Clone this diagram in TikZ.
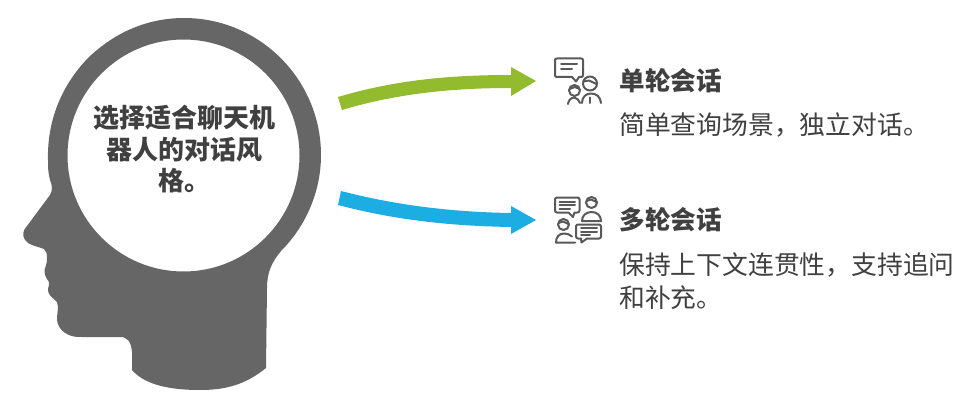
\documentclass[tikz,border=0pt]{standalone}
\usepackage{fontspec}
\setmainfont{Noto Sans CJK SC}
\definecolor{headgray}{HTML}{666666}
\definecolor{txtgray}{HTML}{404040}
\definecolor{arrgreen}{HTML}{92BB2D}
\definecolor{arrblue}{HTML}{1CADE2}
\definecolor{icongray}{HTML}{595959}
\tikzset{
  headtxt/.style={font=\fontsize{26}{31.5}\selectfont\bfseries,text=txtgray,align=center,inner sep=0pt},
  titletxt/.style={font=\fontsize{25.6}{31}\selectfont\bfseries,text=txtgray,anchor=west,inner sep=0pt},
  bodytxt/.style={font=\fontsize{25.8}{33}\selectfont,text=txtgray,anchor=west,align=left,inner sep=0pt},
  iconline/.style={draw=icongray,line width=2pt,line join=round,line cap=round,fill=none}
}
\begin{document}
\begin{tikzpicture}[x=1pt,y=-1pt]
\useasboundingbox (0,0) rectangle (972,409);
\fill[white] (0,0) rectangle (972,409);
% head
\fill[headgray,even odd rule]
  (48,160)
  .. controls (47,120) and (62,85) .. (88,58)
  .. controls (115,32) and (148,18) .. (184,18)
  .. controls (260,18) and (321,80) .. (321,155)
  .. controls (321,190) and (307,225) .. (281,251)
  .. controls (272,262) and (267,272) .. (267,288)
  -- (266,368)
  .. controls (245,385) and (225,390) .. (200,390)
  .. controls (170,390) and (145,385) .. (132,370)
  -- (132,352)
  .. controls (131,342) and (128,337) .. (120,337)
  -- (82,337)
  .. controls (68,338) and (58,330) .. (57,320)
  .. controls (57,312) and (59,308) .. (57,302)
  .. controls (52,297) and (48,295) .. (48,290)
  .. controls (48,286) and (50,285) .. (49,282)
  .. controls (46,278) and (44,274) .. (44.5,270)
  .. controls (46,265) and (47,263) .. (47,258)
  .. controls (47,253) and (46,251) .. (44,249)
  .. controls (36,246) and (28,245) .. (25,240)
  .. controls (22,235) and (23,230) .. (27,226)
  -- (50,195)
  .. controls (53,190) and (52,185) .. (50,180)
  .. controls (48,173) and (48,166) .. (48,160) -- cycle
  (183.5,155.5) circle [radius=116];
\node[headtxt] (headlabel) at (184,149.5) {选择适合聊天机\\器人的对话风\\格。};
% arrows
\coordinate (gt) at (536,81);
\coordinate (bt) at (536,220);
\fill[arrgreen] (338,97) .. controls (395,80) and (450,75) .. (511,75) -- (511,67) -- (gt) -- (511,96) -- (511,88)
  .. controls (450,88) and (395,94) .. (342,110) -- cycle;
\fill[arrblue] (341,191) .. controls (395,205) and (450,212) .. (511,213) -- (511,206) -- (bt) -- (511,234) -- (511,227)
  .. controls (450,226) and (395,220) .. (338,205) -- cycle;
% icon 1
\draw[iconline] (557,58.5) -- (581,58.5) .. controls (582.5,58.5) and (583,59) .. (583,60.5) -- (583,75) .. controls (583,76.5) and (582.5,77) .. (581,77) -- (579,77) -- (576,81.5) -- (572,77) -- (557,77) .. controls (555.5,77) and (555,76.5) .. (555,75) -- (555,60.5) .. controls (555,59) and (555.5,58.5) .. (557,58.5) -- cycle;
\draw[iconline] (561,64.5) -- (577,64.5) (561,69) -- (572,69);
\draw[iconline] (574.5,90.5) circle [radius=5.5];
\draw[iconline] (569.5,89) -- (575,87) -- (579.5,89);
\draw[iconline] (568,104) .. controls (568.5,100.5) and (570.5,98) .. (574,97.5) .. controls (577,98) and (579,100) .. (580,103);
\draw[iconline] (590,83.5) circle [radius=7];
\draw[iconline] (583.5,81.5) -- (589,80.5) -- (596.5,84);
\draw[iconline] (582,103) .. controls (582,97) and (586,93.5) .. (591,93.5) .. controls (596.5,93.5) and (600.5,97) .. (601,103);
\draw[iconline] (590,97.5) -- (590,103);
% icon 2
\draw[iconline] (557,197.5) -- (577.5,197.5) .. controls (578.5,197.5) and (579.5,198.5) .. (579.5,199.5) -- (579.5,210.5) .. controls (579.5,211.5) and (578.5,212.5) .. (577.5,212.5) -- (574.5,212.5) -- (573,217) -- (568.5,212.5) -- (557,212.5) .. controls (556,212.5) and (555,211.5) .. (555,210.5) -- (555,199.5) .. controls (555,198.5) and (556,197.5) .. (557,197.5) -- cycle;
\draw[iconline] (559.5,201.5) -- (575,201.5) (559.5,205) -- (575,205) (559.5,208.5) -- (570,208.5);
\draw[iconline] (591.5,202.5) circle [radius=5.5];
\draw[iconline] (586.5,201) -- (591,199.5) -- (596.5,202);
\draw[iconline] (582,221) .. controls (582,215.5) and (586,212) .. (591.5,212) .. controls (597,212) and (601,215.5) .. (601,221) -- cycle;
\draw[iconline] (563.5,224.5) circle [radius=5.5];
\draw[iconline] (558.5,223) -- (563,221.5) -- (568.5,224);
\draw[iconline] (575,242.5) -- (556,242.5) .. controls (556,237) and (559,233.5) .. (564,233.5) .. controls (567,233.5) and (570,234.5) .. (572,236.5);
\draw[iconline] (578,224.5) -- (599,224.5) .. controls (600,224.5) and (601,225.5) .. (601,226.5) -- (601,236.5) .. controls (601,237.5) and (600,238.5) .. (599,238.5) -- (587,238.5) -- (581.5,242.5) -- (581,238.5) -- (578,238.5) .. controls (577,238.5) and (576,237.5) .. (576,236.5) -- (576,226.5) .. controls (576,225.5) and (577,224.5) .. (578,224.5) -- cycle;
\draw[iconline] (581,228) -- (597,228) (581,231.5) -- (597,231.5) (581,235) -- (590,235);
% labels
\node[titletxt] (t1) at (619.5,81) {单轮会话};
\node[bodytxt] (b1) at (619,125) {简单查询场景，独立对话。};
\node[titletxt] (t2) at (619.5,220) {多轮会话};
\node[bodytxt] (b2) at (619,281.5) {保持上下文连贯性，支持追问\\和补充。};
\end{tikzpicture}
\end{document}
